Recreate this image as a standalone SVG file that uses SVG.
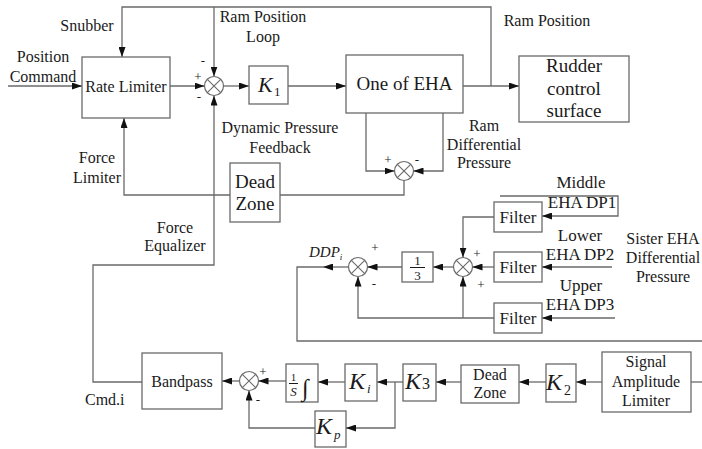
<svg xmlns="http://www.w3.org/2000/svg" width="702" height="449" viewBox="0 0 702 449">
  <defs>
    <marker id="arr" viewBox="0 0 10 7" refX="10" refY="3.5" markerWidth="10" markerHeight="7" markerUnits="userSpaceOnUse" orient="auto">
      <path d="M0,0 L10,3.5 L0,7 z" fill="#111"/>
    </marker>
    <g id="sum">
      <circle cx="0" cy="0" r="9.5" fill="#fff" stroke="#6a6a6a" stroke-width="1.2"/>
      <path d="M-6.7,-6.7 L6.7,6.7 M-6.7,6.7 L6.7,-6.7" stroke="#6a6a6a" stroke-width="1.1"/>
    </g>
  </defs>
  <style>
    .box { fill: #fff; stroke: #6a6a6a; stroke-width: 1.3; }
    .ln { fill: none; stroke: #6a6a6a; stroke-width: 1.3; }
    .ar { marker-end: url(#arr); }
    text { font-family: "Liberation Serif", "Times New Roman", serif; fill: #1a1a1a; }
    .t16 { font-size: 16px; }
    .t17 { font-size: 17px; }
    .t19 { font-size: 19px; }
    .mid { text-anchor: middle; }
    .it { font-style: italic; }
    .sg { font-size: 13px; text-anchor: middle; }
  </style>

  <rect width="702" height="449" fill="#fff"/>

  <!-- connectors -->
  <g id="connectors">
    <path class="ln ar" d="M8,86 H82"/>
    <path class="ln ar" d="M170,86 H204.5"/>
    <path class="ln ar" d="M223.5,86 H249"/>
    <path class="ln ar" d="M288,86 H346"/>
    <path class="ln ar" d="M463,86 H519"/>
    <path class="ln ar" d="M491,86 V7 H122 V57"/>
    <path class="ln ar" d="M214,7 V76.5"/>
    <path class="ln ar" d="M366,113 V171 H394.5"/>
    <path class="ln ar" d="M443,113 V171 H413.5"/>
    <path class="ln" d="M404,180.5 V195 H280"/>
    <path class="ln ar" d="M230,195 H124 V118"/>
    <path class="ln ar" d="M142,382 H93 V265 H214 V95.5"/>
    <path class="ln ar" d="M239.5,381 H222"/>
    <path class="ln ar" d="M286,381 H258.5"/>
    <path class="ln ar" d="M345,382 H318"/>
    <path class="ln ar" d="M403,382 H377"/>
    <path class="ln ar" d="M395,382 V428 H346"/>
    <path class="ln ar" d="M315,428 H249 V390.5"/>
    <path class="ln ar" d="M461,382 H436"/>
    <path class="ln ar" d="M546,382 H519"/>
    <path class="ln ar" d="M602,382 H576"/>
    <path class="ln" d="M691,382 H702"/>
    <path class="ln ar" d="M348.5,267 H323"/>
    <path class="ln" d="M323,267 H297 V341 H702"/>
    <path class="ln ar" d="M402,267 H367.5"/>
    <path class="ln ar" d="M453.5,267 H433"/>
    <path class="ln ar" d="M494,217 H463 V257.5"/>
    <path class="ln ar" d="M494,267 H472.5"/>
    <path class="ln ar" d="M494,318 H358 V276.5"/>
    <path class="ln ar" d="M463,318 V276.5"/>
    <path class="ln ar" d="M500,196 H618 V216 H542"/>
    <path class="ln ar" d="M612,267 H542"/>
    <path class="ln ar" d="M615,318 H542"/>
  </g>

  <!-- free labels -->
  <g id="labels">
    <text class="t16 mid" x="87" y="31">Snubber</text>
    <text class="t16 mid" x="43" y="62">Position</text>
    <text class="t16 mid" x="43" y="82">Command</text>
    <text class="t16 mid" x="263" y="22">Ram Position</text>
    <text class="t16 mid" x="263" y="42">Loop</text>
    <text class="t16 mid" x="547" y="26">Ram Position</text>
    <text class="t16 mid" x="280" y="133">Dynamic Pressure</text>
    <text class="t16 mid" x="280" y="153">Feedback</text>
    <text class="t16 mid" x="484" y="131">Ram</text>
    <text class="t16 mid" x="484" y="150">Differential</text>
    <text class="t16 mid" x="484" y="168">Pressure</text>
    <text class="t16 mid" x="97" y="163">Force</text>
    <text class="t16 mid" x="97" y="183">Limiter</text>
    <text class="t16 mid" x="175" y="233">Force</text>
    <text class="t16 mid" x="175" y="251">Equalizer</text>
    <text class="t16" x="85" y="405">Cmd.i</text>
    <text class="t17 mid" x="581" y="188">Middle</text>
    <text class="t17 mid" x="582" y="208">EHA DP1</text>
    <text class="t17 mid" x="580" y="241">Lower</text>
    <text class="t17 mid" x="580" y="260">EHA DP2</text>
    <text class="t17 mid" x="581" y="291">Upper</text>
    <text class="t17 mid" x="580" y="310">EHA DP3</text>
    <text class="t16 mid" x="663" y="244">Sister EHA</text>
    <text class="t16 mid" x="663" y="263">Differential</text>
    <text class="t16 mid" x="663" y="282">Pressure</text>
    <text class="it" x="309" y="257" font-size="15">DDP<tspan font-size="9" dy="3">i</tspan></text>
    <!-- junction signs -->
    <text class="sg" x="203" y="65">-</text>
    <text class="sg" x="198" y="81">+</text>
    <text class="sg" x="199" y="101">-</text>
    <text class="sg" x="388" y="164">+</text>
    <text class="sg" x="417" y="164">-</text>
    <text class="sg" x="375" y="252">+</text>
    <text class="sg" x="374" y="288">-</text>
    <text class="sg" x="477" y="258">+</text>
    <text class="sg" x="481" y="289">+</text>
    <text class="sg" x="263" y="376">+</text>
    <text class="sg" x="258" y="404">-</text>
  </g>

  <!-- summing junctions -->
  <g id="sum-ram"><use href="#sum" x="214" y="86"/></g>
  <g id="sum-diff"><use href="#sum" x="404" y="171"/></g>
  <g id="sum-ddp"><use href="#sum" x="358" y="267"/></g>
  <g id="sum-dp"><use href="#sum" x="463" y="267"/></g>
  <g id="sum-pi"><use href="#sum" x="249" y="381"/></g>

  <!-- blocks -->
  <g id="rate-limiter">
    <rect class="box" x="82" y="57" width="88" height="61"/>
    <text class="t16 mid" x="126" y="92">Rate Limiter</text>
  </g>
  <g id="k1">
    <rect class="box" x="249" y="66" width="39" height="38"/>
    <text class="it" x="258" y="92" font-size="22">K</text>
    <text x="274" y="96" font-size="13">1</text>
  </g>
  <g id="eha">
    <rect class="box" x="346" y="55" width="117" height="58"/>
    <text class="t19 mid" x="404.5" y="90">One of EHA</text>
  </g>
  <g id="rudder">
    <rect class="box" x="519" y="56" width="110" height="66"/>
    <text class="t19 mid" x="574" y="72">Rudder</text>
    <text class="t19 mid" x="574" y="95">control</text>
    <text class="t19 mid" x="574" y="117">surface</text>
  </g>
  <g id="dead-zone-1">
    <rect class="box" x="230" y="163" width="50" height="59"/>
    <text class="t19 mid" x="255" y="188">Dead</text>
    <text class="t19 mid" x="255" y="210">Zone</text>
  </g>
  <g id="filter-1">
    <rect class="box" x="494" y="202" width="48" height="30"/>
    <text class="t17 mid" x="518" y="223">Filter</text>
  </g>
  <g id="filter-2">
    <rect class="box" x="494" y="252" width="48" height="30"/>
    <text class="t17 mid" x="518" y="273">Filter</text>
  </g>
  <g id="filter-3">
    <rect class="box" x="494" y="303" width="48" height="30"/>
    <text class="t17 mid" x="518" y="324">Filter</text>
  </g>
  <g id="one-third">
    <rect class="box" x="402" y="252" width="31" height="30"/>
    <text class="mid" x="417.5" y="265" font-size="13">1</text>
    <line x1="410" y1="267.5" x2="425" y2="267.5" stroke="#1a1a1a" stroke-width="1"/>
    <text class="mid" x="417.5" y="280" font-size="13">3</text>
  </g>
  <g id="bandpass">
    <rect class="box" x="142" y="353" width="80" height="56"/>
    <text class="t16 mid" x="182" y="387">Bandpass</text>
  </g>
  <g id="integrator">
    <rect class="box" x="286" y="364" width="32" height="38"/>
    <text class="mid" x="293.5" y="381" font-size="11">1</text>
    <line x1="289" y1="383.5" x2="298" y2="383.5" stroke="#1a1a1a" stroke-width="1"/>
    <text class="mid it" x="293.5" y="396" font-size="13">S</text>
    <text class="it" x="302" y="396" font-size="24">∫</text>
  </g>
  <g id="ki">
    <rect class="box" x="345" y="364" width="32" height="37"/>
    <text class="it" x="349" y="389" font-size="24">K</text>
    <text class="it" x="367" y="393" font-size="13">i</text>
  </g>
  <g id="kp">
    <rect class="box" x="315" y="411" width="31" height="36"/>
    <text class="it" x="316" y="434" font-size="24">K</text>
    <text class="it" x="334" y="439" font-size="13">p</text>
  </g>
  <g id="k3">
    <rect class="box" x="403" y="364" width="33" height="37"/>
    <text class="it" x="405" y="389" font-size="24">K</text>
    <text x="422" y="389" font-size="16">3</text>
  </g>
  <g id="dead-zone-2">
    <rect class="box" x="461" y="365" width="58" height="38"/>
    <text class="t16 mid" x="490" y="380">Dead</text>
    <text class="t16 mid" x="490" y="398">Zone</text>
  </g>
  <g id="k2">
    <rect class="box" x="546" y="364" width="30" height="38"/>
    <text class="it" x="546" y="390" font-size="24">K</text>
    <text x="564" y="395" font-size="14">2</text>
  </g>
  <g id="amplitude-limiter">
    <rect class="box" x="602" y="352" width="89" height="60"/>
    <text class="t16 mid" x="646" y="367">Signal</text>
    <text class="t16 mid" x="646" y="387">Amplitude</text>
    <text class="t16 mid" x="646" y="406">Limiter</text>
  </g>
</svg>
